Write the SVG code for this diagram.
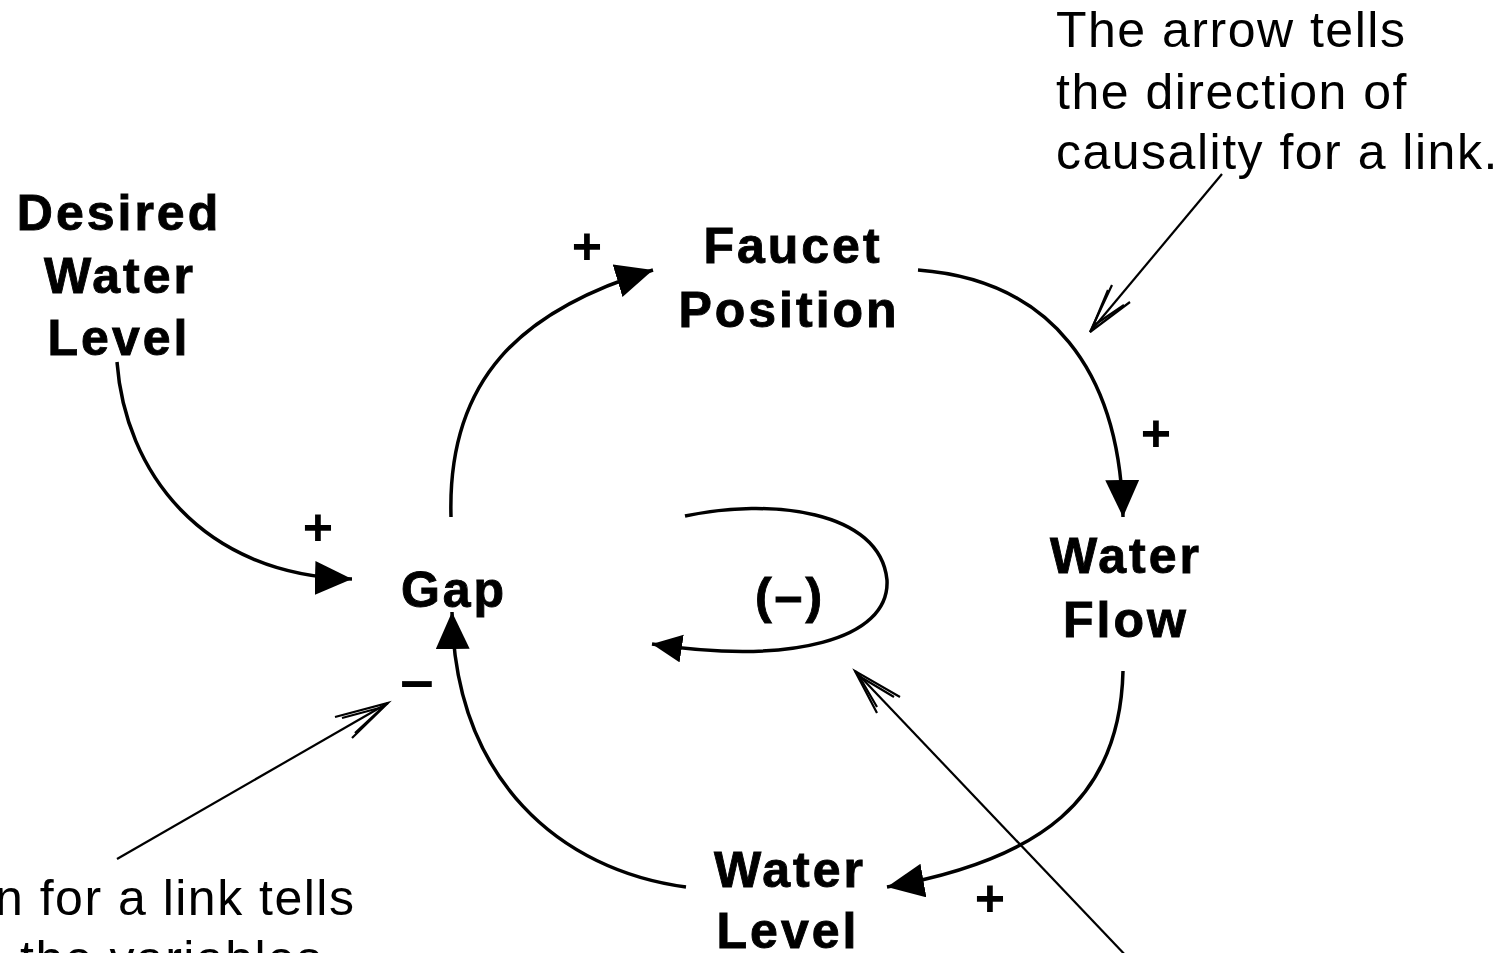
<svg xmlns="http://www.w3.org/2000/svg" width="1510" height="953" viewBox="0 0 1510 953">
<style>
.lbl{font-family:"Liberation Sans",Arial,sans-serif;font-weight:bold;font-size:50px;letter-spacing:3px;fill:#000;stroke:#000;stroke-width:0.9;text-anchor:middle}
.note{font-family:"Liberation Sans",Arial,sans-serif;font-size:50px;letter-spacing:1.5px;fill:#000}
.sign{font-family:"Liberation Sans",Arial,sans-serif;font-weight:bold;font-size:52px;fill:#000;text-anchor:middle}
.link{fill:none;stroke:#000;stroke-width:3.5}
.ann{fill:none;stroke:#000;stroke-width:2.2}
</style>
<defs>
<marker id="ah" markerUnits="userSpaceOnUse" markerWidth="40" markerHeight="36" refX="37" refY="17" orient="auto">
<path d="M0,0 L37,17 L0,34 z" fill="#000"/>
</marker>
<marker id="ahs" markerUnits="userSpaceOnUse" markerWidth="34" markerHeight="30" refX="30" refY="14" orient="auto">
<path d="M0,0 L30,14 L0,28 z" fill="#000"/>
</marker>
</defs>
<rect width="1510" height="953" fill="#fff"/>
<g id="connectors">
<path class="link" d="M117,362 C125,470 200,575 352,579" marker-end="url(#ah)"/>
<path class="link" d="M451,517 C447,380 520,310 653,270" marker-end="url(#ah)"/>
<path class="link" d="M918,270 C1050,280 1120,370 1123,517" marker-end="url(#ah)"/>
<path class="link" d="M1123,671 C1120,800 1040,860 887,887" marker-end="url(#ah)"/>
<path class="link" d="M686,887 C560,870 455,780 452,612" marker-end="url(#ah)"/>
<path class="link" d="M685,516 C770,498 880,510 887,580 C890,640 790,665 652,644" marker-end="url(#ahs)"/>
<g id="annotation-arrows">
<line class="ann" x1="1222" y1="174" x2="1090" y2="332"/>
<polyline class="ann" points="1112,285 1090,332 1130,302"/>
<polyline class="ann" points="1108,290 1093,326 1124,305"/>
<line class="ann" x1="117" y1="859" x2="388" y2="703"/>
<polyline class="ann" points="335,717 388,703 352,738"/>
<polyline class="ann" points="342,718 383,707 355,733"/>
<line class="ann" x1="1130" y1="960" x2="855" y2="671"/>
<polyline class="ann" points="900,697 855,671 877,713"/>
<polyline class="ann" points="894,697 859,676 877,707"/>
</g>
</g>
<g id="node-desired-water-level">
<text class="lbl" x="119" y="230">Desired</text>
<text class="lbl" x="120" y="293">Water</text>
<text class="lbl" x="119" y="355">Level</text>
</g>
<g id="node-faucet-position">
<text class="lbl" x="793" y="263">Faucet</text>
<text class="lbl" x="789" y="327">Position</text>
</g>
<g id="node-gap">
<text class="lbl" x="454" y="607">Gap</text>
</g>
<g id="node-water-flow">
<text class="lbl" x="1126" y="573">Water</text>
<text class="lbl" x="1126" y="637">Flow</text>
</g>
<g id="node-water-level">
<text class="lbl" x="790" y="887">Water</text>
<text class="lbl" x="788" y="948">Level</text>
</g>
<g id="loop-label">
<text class="lbl" x="790" y="613">(–)</text>
</g>
<g id="signs">
<text class="sign" x="587" y="264">+</text>
<text class="sign" x="318" y="545">+</text>
<text class="sign" x="1156" y="451">+</text>
<text class="sign" x="990" y="916">+</text>
<text class="sign" x="417" y="700" style="font-size:60px">–</text>
</g>
<g id="note-top-right">
<text class="note" x="1056" y="47">The arrow tells</text>
<text class="note" x="1056" y="109">the direction of</text>
<text class="note" x="1056" y="169">causality for a link.</text>
</g>
<g id="note-bottom-left">
<text class="note" x="-5" y="915">n for a link tells</text>
<text class="note" x="20" y="976">the variables</text>
</g>
</svg>
